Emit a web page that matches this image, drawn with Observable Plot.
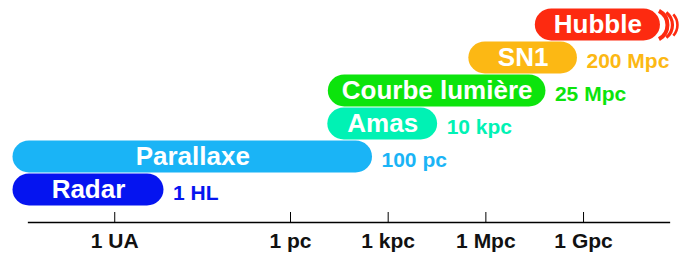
<!DOCTYPE html>
<html>
<head>
<meta charset="utf-8">
<script src="https://cdn.jsdelivr.net/npm/d3@7"></script>
<script src="https://cdn.jsdelivr.net/npm/@observablehq/plot@0.6"></script>
<style>
  html, body { margin: 0; padding: 0; background: #fff; }
  svg { display: block; }
</style>
</head>
<body>
<div id="chart"></div>
<script>
// Distance methods (values in parsecs)
const names = ["Hubble", "SN1", "Courbe lumière", "Amas", "Parallaxe", "Radar"];
const starts = [3.3e7, 3e5, 14.5, 14, 3e-9, 3e-9];
const ends = [2.3e11, 6.5e8, 7e7, 3.3e4, 330, 1.3e-4];
const reachLabels = ["", "200 Mpc", "25 Mpc", "10 kpc", "100 pc", "1 HL"];
const colors = ["#fd2a10", "#fcb814", "#0ce40c", "#00f2b4", "#1ab4f6", "#0514f0"];

// Axis ticks
const tickValues = [4e-6, 1, 1e3, 1e6, 1e9];
const tickLabels = ["1 UA", "1 pc", "1 kpc", "1 Mpc", "1 Gpc"];

const data = names.map((name, i) => ({
  name, start: starts[i], end: ends[i], reach: reachLabels[i], color: colors[i]
}));
const tickLabelOf = new Map(tickValues.map((v, i) => [v, tickLabels[i]]));

// Hubble "expansion" arcs drawn as custom symbols
function arcSymbol(offset, radius, angle) {
  return {
    draw(context) {
      const a = angle * Math.PI / 180;
      const cx = offset;
      context.moveTo(cx + radius * Math.cos(-a), radius * Math.sin(-a));
      context.arc(cx, 0, radius, -a, a);
    }
  };
}
const hubble = data.filter(d => d.name === "Hubble");

const chart = Plot.plot({
  width: 679,
  height: 257,
  marginTop: 0,
  marginLeft: 28,
  marginRight: 10,
  marginBottom: 35,
  style: { fontFamily: "'Liberation Sans', Arial, sans-serif", background: "#fff", overflow: "visible" },
  x: { type: "log", domain: [1.24e-9, 8.85e11], range: [0, 679] },
  y: { type: "band", domain: names, range: [7, 207], padding: 0, axis: null },
  marks: [
    Plot.frame({ anchor: "bottom", stroke: "#000", strokeWidth: 1.3 }),
    Plot.ruleX(tickValues, { x: d => d, insetTop: 212, stroke: "#000" }),
    Plot.axisX({
      ticks: tickValues,
      tickFormat: d => tickLabelOf.get(d),
      tickSize: 0,
      tickPadding: 11,
      fontSize: 21,
      fontWeight: "bold",
      fill: "#111",
      label: null
    }),
    Plot.barX(data, {
      y: "name", x1: "start", x2: "end", fill: "color",
      rx: 16.5, ry: 16.5, insetTop: 0.6, insetBottom: 0.6
    }),
    Plot.dot(hubble, { x: "end", y: "name", r: 5, symbol: arcSymbol(-9, 16, 62), fill: "none", stroke: "color", strokeWidth: 4 }),
    Plot.dot(hubble, { x: "end", y: "name", r: 5, symbol: arcSymbol(-4, 16, 52), fill: "none", stroke: "color", strokeWidth: 3.2 }),
    Plot.dot(hubble, { x: "end", y: "name", r: 5, symbol: arcSymbol(1, 16, 42), fill: "none", stroke: "color", strokeWidth: 2.6 }),
    Plot.text(data, {
      x: d => Math.sqrt(d.start * d.end), y: "name", text: "name",
      fill: "#fff", fontSize: 26, fontWeight: "bold"
    }),
    Plot.text(data.filter(d => d.reach), {
      x: "end", y: "name", text: "reach", fill: "color",
      textAnchor: "start", dx: 9, dy: 3, fontSize: 21, fontWeight: "bold"
    })
  ]
});
document.getElementById("chart").appendChild(chart);
</script>
</body>
</html>
